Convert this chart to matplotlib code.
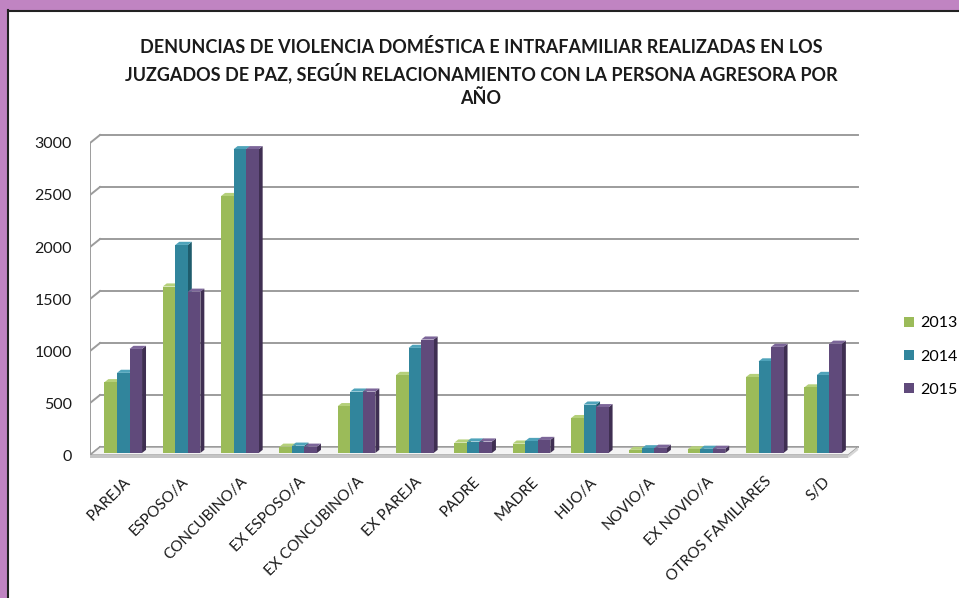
# grafico de barras "3D" al estilo Excel: denuncias por relacionamiento y año
import matplotlib
matplotlib.use("Agg")
import matplotlib.pyplot as plt
from matplotlib.patches import Polygon, Rectangle, Patch

# datos
categorias = ["PAREJA", "ESPOSO/A", "CONCUBINO/A", "EX ESPOSO/A", "EX CONCUBINO/A",
              "EX PAREJA", "PADRE", "MADRE", "HIJO/A", "NOVIO/A", "EX NOVIO/A",
              "OTROS FAMILIARES", "S/D"]
anios = ["2013", "2014", "2015"]
v2013 = [680, 1600, 2470, 60, 450, 750, 100, 90, 335, 30, 35, 730, 630]
v2014 = [770, 2000, 2920, 70, 590, 1010, 110, 115, 465, 45, 40, 880, 750]
v2015 = [1000, 1550, 2920, 60, 590, 1090, 110, 125, 440, 50, 40, 1020, 1050]
ticks_y = [0, 500, 1000, 1500, 2000, 2500, 3000]

titulo = ("DENUNCIAS DE VIOLENCIA DOMÉSTICA E INTRAFAMILIAR REALIZADAS EN LOS\n"
          "JUZGADOS DE PAZ, SEGÚN RELACIONAMIENTO CON LA PERSONA AGRESORA POR\n"
          "AÑO")

# colores: frente, lado, tapa
colores = [("#9bbb59", "#6f8a3a", "#b5d07a"),
           ("#31859c", "#1f5c6d", "#4fa3ba"),
           ("#604a7b", "#3f2f52", "#7c6699")]

plt.rcParams['font.family'] = ['Lato', 'DejaVu Sans']

W, H = 959, 598
fig = plt.figure(figsize=(W / 100, H / 100), dpi=100)
fig.patch.set_facecolor("white")

# marco violeta y linea negra
fig.patches.append(Rectangle((0, (H - 10) / H), 1, 10 / H, transform=fig.transFigure,
                             facecolor="#c084c2", edgecolor="none", zorder=0))
fig.patches.append(Rectangle((0, 0), 7 / W, 1, transform=fig.transFigure,
                             facecolor="#c084c2", edgecolor="none", zorder=0))
fig.add_artist(plt.Line2D([7.5 / W, 7.5 / W], [0, (H - 10) / H], transform=fig.transFigure,
                          color="#222222", lw=1.5))
fig.add_artist(plt.Line2D([7.5 / W, 1], [(H - 10.5) / H, (H - 10.5) / H],
                          transform=fig.transFigure, color="#222222", lw=1.5))

# ejes ubicados en pixeles
ax_left, ax_right = 90, 861
ax_top, ax_bottom = 133.1, 459.2
ax = fig.add_axes([ax_left / W, (H - ax_bottom) / H,
                   (ax_right - ax_left) / W, (ax_bottom - ax_top) / H])
ax.set_xlim(-0.5, 12.72)
ax.set_ylim(-40, 3095)
for s in ax.spines.values():
    s.set_visible(False)
ax.patch.set_alpha(0)

n = len(categorias)
dxw, dyw = 0.1715, 77      # profundidad de la pared
dxb, dyb = 0.068, 30       # profundidad de cada barra
gris = "#9c9c9c"

# pared del fondo: lineas de division
for v in ticks_y:
    ax.plot([-0.5 + dxw, n - 0.5 + dxw], [v + dyw, v + dyw], color=gris, lw=1.4, zorder=1)
    ax.plot([-0.5, -0.5 + dxw], [v, v + dyw], color=gris, lw=1.4, zorder=1)
ax.plot([-0.5, -0.5], [0, ticks_y[-1]], color=gris, lw=1.4, zorder=1)

# piso
ax.add_patch(Polygon([(-0.5, 0), (n - 0.5, 0), (n - 0.5 + dxw, dyw), (-0.5 + dxw, dyw)],
                     closed=True, facecolor="#f4f4f4", edgecolor=gris, lw=1, zorder=1))
ax.add_patch(Polygon([(-0.5, -30), (n - 0.5, -30), (n - 0.5, 0), (-0.5, 0)],
                     closed=True, facecolor="#c4c4c4", edgecolor="none", zorder=1))
ax.add_patch(Polygon([(n - 0.5, -30), (n - 0.5 + dxw, dyw - 30), (n - 0.5 + dxw, dyw),
                      (n - 0.5, 0)], closed=True, facecolor="#d6d6d6", edgecolor="none",
                     zorder=1))

# barras
ancho = 0.215
base = 20
desp = 0.07
series = [v2013, v2014, v2015]
z = 2
for i in range(n):
    for k, vals in enumerate(series):
        x0 = i + desp + (k - 1.5) * ancho
        h = vals[i]
        frente, lado, tapa = colores[k]
        top = base + h
        ax.add_patch(Polygon([(x0 + ancho, base), (x0 + ancho + dxb, base + dyb),
                              (x0 + ancho + dxb, top + dyb), (x0 + ancho, top)],
                             closed=True, facecolor=lado, edgecolor="none", zorder=z))
        ax.add_patch(Polygon([(x0, top), (x0 + ancho, top), (x0 + ancho + dxb, top + dyb),
                              (x0 + dxb, top + dyb)],
                             closed=True, facecolor=tapa, edgecolor="none", zorder=z))
        ax.bar(x0, h, ancho, bottom=base, align="edge", color=frente,
               edgecolor="none", zorder=z + 0.5)
        z += 1

# etiquetas
ax.set_yticks(ticks_y)
ax.set_yticklabels([str(t) for t in ticks_y], fontsize=11.5, color="#1a1a1a")
ax.tick_params(axis="y", length=0, pad=13)
ax.set_xticks([i + desp for i in range(n)])
ax.set_xticklabels(categorias, rotation=45, ha="right", va="top",
                   rotation_mode="anchor", fontsize=11, color="#1a1a1a")
ax.tick_params(axis="x", length=0, pad=11)

fig.text(481 / W, 1 - 38 / H, titulo, ha="center", va="top", fontsize=13,
         fontweight="bold", color="#1a1a1a", linespacing=1.38)

manijas = [Patch(facecolor=c[0], edgecolor="none") for c in colores]
fig.legend(manijas, anios, loc="upper left", bbox_to_anchor=(898 / W, 1 - 310 / H),
           frameon=False, fontsize=11.5, handlelength=0.6, handleheight=0.6,
           handletextpad=0.4, labelspacing=1.2, borderaxespad=0)

fig.savefig("out.png", dpi=100)
